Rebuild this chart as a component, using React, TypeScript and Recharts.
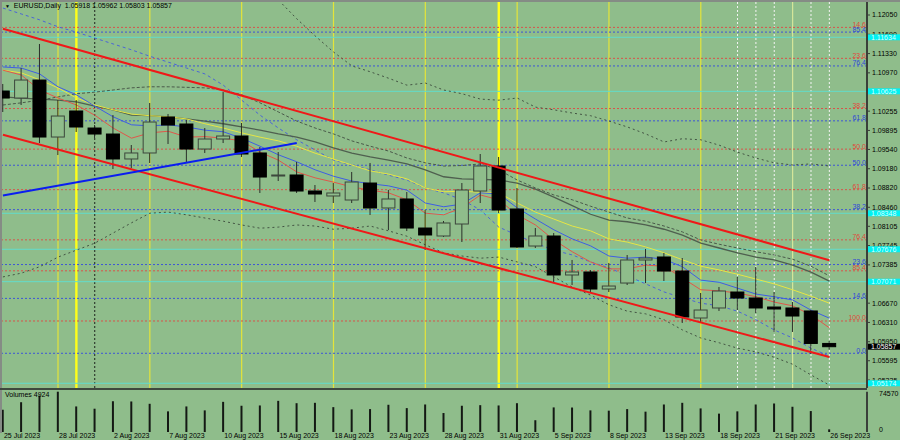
import { ComposedChart, BarChart, Bar, Line, XAxis, YAxis, ReferenceLine } from "recharts"

const FONT = '"Liberation Sans", Arial, sans-serif'
const BG = "#8fbd8b"

const dates = [
  "25 Jul 2023", "26 Jul 2023", "27 Jul 2023", "28 Jul 2023", "31 Jul 2023",
  "1 Aug 2023", "2 Aug 2023", "3 Aug 2023", "4 Aug 2023", "7 Aug 2023",
  "8 Aug 2023", "9 Aug 2023", "10 Aug 2023", "11 Aug 2023", "14 Aug 2023",
  "15 Aug 2023", "16 Aug 2023", "17 Aug 2023", "18 Aug 2023", "21 Aug 2023",
  "22 Aug 2023", "23 Aug 2023", "24 Aug 2023", "25 Aug 2023", "28 Aug 2023",
  "29 Aug 2023", "30 Aug 2023", "31 Aug 2023", "1 Sep 2023", "4 Sep 2023",
  "5 Sep 2023", "6 Sep 2023", "7 Sep 2023", "8 Sep 2023", "11 Sep 2023",
  "12 Sep 2023", "13 Sep 2023", "14 Sep 2023", "15 Sep 2023", "18 Sep 2023",
  "19 Sep 2023", "20 Sep 2023", "21 Sep 2023", "22 Sep 2023", "25 Sep 2023",
  "26 Sep 2023",
]

const openP = [
  1.10631, 1.105, 1.10836, 1.09772, 1.10258, 1.0994, 1.09828, 1.09362, 1.09474, 1.10146,
  1.10015, 1.09548, 1.09735, 1.09791, 1.09474, 1.09044, 1.09063, 1.08764, 1.08671, 1.08596,
  1.08913, 1.08447, 1.08615, 1.08073, 1.07924, 1.08148, 1.08764, 1.09231, 1.08428, 1.07737,
  1.07924, 1.07196, 1.07252, 1.06934, 1.07046, 1.07476, 1.07532, 1.0727, 1.06393, 1.0658,
  1.06878, 1.06766, 1.06598, 1.0658, 1.06524, 1.05918,
]
const highP = [
  1.10762, 1.1106, 1.11509, 1.10463, 1.10463, 1.09996, 1.10183, 1.09623, 1.10407, 1.10202,
  1.1009, 1.0994, 1.10612, 1.10034, 1.09586, 1.09492, 1.09306, 1.08876, 1.08913, 1.09119,
  1.09287, 1.08783, 1.08745, 1.08409, 1.08204, 1.08913, 1.09455, 1.09399, 1.0882, 1.08073,
  1.0798, 1.07476, 1.07289, 1.0742, 1.07569, 1.07681, 1.07607, 1.07513, 1.0686, 1.06972,
  1.07158, 1.07345, 1.06878, 1.06692, 1.06542, 1.05962,
]
const lowP = [
  1.10239, 1.1037, 1.0966, 1.09436, 1.09866, 1.09754, 1.09175, 1.09193, 1.09287, 1.09642,
  1.09306, 1.09474, 1.0966, 1.09399, 1.08727, 1.08951, 1.08727, 1.08559, 1.0854, 1.0854,
  1.08316, 1.08036, 1.08017, 1.07663, 1.07905, 1.07812, 1.0854, 1.08353, 1.077, 1.077,
  1.07046, 1.07009, 1.0686, 1.06878, 1.07009, 1.07046, 1.07084, 1.063, 1.06318, 1.06524,
  1.06542, 1.06486, 1.06132, 1.06132, 1.05721, 1.05803,
]
const closeP = [
  1.105, 1.10836, 1.09772, 1.10164, 1.09959, 1.09828, 1.09362, 1.09474, 1.10052, 1.09996,
  1.09548, 1.09735, 1.09791, 1.09455, 1.09025, 1.09063, 1.08764, 1.08708, 1.08727, 1.08932,
  1.08447, 1.08615, 1.08073, 1.07943, 1.08167, 1.08783, 1.09231, 1.08409, 1.07719, 1.07924,
  1.07196, 1.07252, 1.06934, 1.0699, 1.07476, 1.07513, 1.0727, 1.06412, 1.06542, 1.06897,
  1.06766, 1.0658, 1.06561, 1.0643, 1.05918, 1.05857,
]

const volumes = [
  41290, 55110, 67300, 74570, 47290, 43100, 56930, 56500, 52200, 38200,
  47300, 40000, 55800, 48560, 49100, 57650, 53300, 54000, 46000, 41830,
  42400, 50380, 44200, 50930, 35100, 48560, 49650, 49100, 53300, 21800,
  45500, 45300, 40000, 39470, 42400, 37650, 50900, 54000, 43650, 34000,
  38200, 50900, 52750, 46700, 38740, 4924,
]

// moving averages and bands
const maRed = [
  1.1102, 1.1093, 1.1065, 1.105, 1.1037, 1.1018, 1.0994, 1.0975, 1.0985, 1.0988,
  1.0977, 1.0978, 1.0975, 1.097, 1.0949, 1.0934, 1.0912, 1.0901, 1.0893, 1.0884,
  1.0878, 1.0873, 1.086, 1.0835, 1.0832, 1.0845, 1.0869, 1.086, 1.0832, 1.0813,
  1.0785, 1.0763, 1.0744, 1.0731, 1.0731, 1.0738, 1.0736, 1.0714, 1.0692, 1.069,
  1.0686, 1.0679, 1.0669, 1.0662, 1.0645, 1.0621,
]
const maBlue = [
  1.1108, 1.1106, 1.1095, 1.1071, 1.1056, 1.1035, 1.1015, 1.1, 1.0998, 1.1,
  1.0996, 1.099, 1.0987, 1.0975, 1.096, 1.0944, 1.0931, 1.0916, 1.0904, 1.0895,
  1.089, 1.0886, 1.0878, 1.0854, 1.0847, 1.0852, 1.0873, 1.0871, 1.0845, 1.0824,
  1.0804, 1.0787, 1.0774, 1.0755, 1.0751, 1.0753, 1.0749, 1.0735, 1.071, 1.0706,
  1.0695, 1.0684, 1.0679, 1.0673, 1.0654, 1.0639,
]
const maYellow = [
  1.1102, 1.1097, 1.1084, 1.1069, 1.105, 1.1037, 1.1028, 1.102, 1.1017, 1.1015,
  1.1011, 1.1002, 1.0994, 1.0985, 1.0977, 1.097, 1.096, 1.0947, 1.0936, 1.0925,
  1.0914, 1.0908, 1.0899, 1.0882, 1.0875, 1.0876, 1.0874, 1.0873, 1.0854, 1.0837,
  1.0824, 1.0811, 1.0802, 1.0787, 1.0781, 1.0772, 1.0761, 1.0748, 1.0736, 1.0729,
  1.0721, 1.0712, 1.0703, 1.0692, 1.068, 1.0667,
]
const maDark = [
  1.1052, 1.105, 1.1048, 1.1046, 1.1043, 1.1035, 1.1028, 1.1018, 1.1017, 1.1015,
  1.1011, 1.1007, 1.1002, 1.0996, 1.099, 1.0983, 1.0977, 1.0968, 1.0957, 1.0947,
  1.094, 1.0934, 1.0927, 1.0916, 1.0903, 1.0899, 1.0898, 1.0897, 1.0891, 1.088,
  1.0865, 1.0849, 1.0833, 1.0822, 1.0819, 1.0813, 1.0805, 1.0794, 1.0779, 1.077,
  1.0761, 1.0753, 1.0748, 1.0738, 1.0725, 1.0708,
]
const maDashed = [
  1.1037, 1.1041, 1.1046, 1.1052, 1.1058, 1.1061, 1.1065, 1.1069, 1.1071, 1.1071,
  1.107, 1.1069, 1.1065, 1.1056, 1.1041, 1.1024, 1.1007, 1.0994, 1.0983, 1.097,
  1.096, 1.0951, 1.0938, 1.0929, 1.0923, 1.0924, 1.0927, 1.0916, 1.0897, 1.0882,
  1.0869, 1.086, 1.0848, 1.0837, 1.0826, 1.082, 1.0811, 1.08, 1.0785, 1.0777,
  1.077, 1.0763, 1.0757, 1.0749, 1.0736, 1.0718,
]
const bandUpper = [
  null, null, null, null, null, null, null, null, null, null,
  null, null, null, null, 1.1263, 1.1233, 1.1198, 1.1166, 1.1136, 1.111,
  1.1099, 1.1087, 1.1074, 1.1078, 1.1065, 1.1058, 1.1048, 1.1046, 1.105, 1.1033,
  1.1028, 1.1022, 1.1017, 1.1007, 1.0996, 1.0983, 1.0968, 1.0974, 1.0972, 1.0962,
  1.0949, 1.0938, 1.0929, 1.0925, 1.0927, 1.0923,
]
const bandLower = [
  1.0716, 1.0723, 1.0735, 1.0753, 1.0766, 1.0779, 1.0798, 1.0817, 1.0835, 1.0837,
  1.0832, 1.0826, 1.082, 1.0813, 1.0807, 1.0809, 1.0813, 1.0811, 1.0805, 1.0807,
  1.0811, 1.0802, 1.0792, 1.0776, 1.0761, 1.0755, 1.0751, 1.0753, 1.0744, 1.0735,
  1.0716, 1.0697, 1.0682, 1.0664, 1.0652, 1.0647, 1.0636, 1.0617, 1.0602, 1.0593,
  1.0583, 1.0576, 1.0566, 1.0553, 1.0533, 1.0514,
]
const envBlue = [
  1.1218, 1.1207, 1.1196, 1.1183, 1.1173, 1.1162, 1.1151, 1.114, 1.1128, 1.1117,
  1.1106, 1.1095, 1.1074, 1.1046, 1.1018, 1.0994, 1.0972, 1.0953, 1.0934, 1.0925,
  1.0916, 1.0906, 1.0897, 1.0882, 1.0873, 1.086, 1.0841, 1.0809, 1.0794, 1.0779,
  1.0766, 1.0757, 1.0744, 1.0733, 1.0718, 1.0703, 1.0688, 1.0677, 1.0667, 1.0662,
  1.0652, 1.0636, 1.0617, 1.0602, 1.0583, 1.0568,
]

const priceTicks = [
  1.1205, 1.1169, 1.1133, 1.1097, 1.10255, 1.09895, 1.0954, 1.0918, 1.0882, 1.0846,
  1.08105, 1.07745, 1.07385, 1.0667, 1.0631, 1.0595, 1.05595, 1.05235,
]

const fibRedLevels = [1.11819, 1.11241, 1.10304, 1.09546, 1.08789, 1.07852, 1.07274, 1.06337]
const fibRedLabels = ["14.6", "23.6", "38.2", "50.0", "61.8", "76.4", "85.4", "100.0"]
const fibBlueLevels = [1.11731, 1.11099, 1.10074, 1.09245, 1.08416, 1.07391, 1.06759, 1.05734]
const fibBlueLabels = ["85.4", "76.4", "61.8", "50.0", "38.2", "23.6", "14.6", "0.0"]
const cyanLevels = [1.11634, 1.10625, 1.08348, 1.07676, 1.07071, 1.05174]

const channelUpper = [{ i: 0, p: 1.11794 }, { i: 45, p: 1.07472 }]
const channelLower = [{ i: 0, p: 1.09815 }, { i: 45, p: 1.05665 }]
const supportLine = [{ i: 0, p: 1.0868 }, { i: 16, p: 1.0966 }]

const fridayDays = [3, 8, 13, 18, 23, 28, 33, 38]
const monthEndDays = [4, 27]
const paleDays = [43]
const whiteDays = [40, 41, 42, 44, 45]
const blackDays = [5]
const dateTicks = [0, 3, 6, 9, 12, 15, 18, 21, 24, 27, 30, 33, 36, 39, 42, 45]

const volMax = 74570
const xDomain = [-0.05, 47.05]
const yDomain = [1.05086, 1.12293]
const MAIN_MARGIN = { top: 2, right: 0, bottom: 2, left: 2 }
const VOL_MARGIN = { top: 3.7, right: 0, bottom: 0, left: 2 }

function Candle(props: any) {
  const { x, y, width, height, payload } = props
  const { open, close, high, low } = payload
  const k = high - low > 0 ? height / (high - low) : 0
  const yo = y + (high - open) * k
  const yc = y + (high - close) * k
  const cx = x + width / 2
  const top = Math.min(yo, yc)
  const bh = Math.max(Math.abs(yo - yc), 1)
  const bull = close >= open
  return (
    <g>
      <line x1={cx} x2={cx} y1={y} y2={y + height} stroke="#2a2f2a" strokeWidth={1} />
      <rect
        x={cx - 6.5}
        y={top}
        width={13}
        height={bh}
        fill={bull ? BG : "#000"}
        stroke={bull ? "#3c463c" : "#000"}
        strokeWidth={1}
      />
    </g>
  )
}

const fibLabel = (text: string, color: string) => (props: any) => {
  const vb = props.viewBox
  return (
    <text x={vb.x + vb.width - 1} y={vb.y - 0.5} textAnchor="end" fontSize={7} fill={color} fontFamily={FONT}>
      {text}
    </text>
  )
}

const tagLabel = (text: string, bg: string, fg: string) => (props: any) => {
  const vb = props.viewBox
  return (
    <g>
      <rect x={vb.x + vb.width + 1} y={vb.y - 3} width={32} height={6} fill={bg} />
      <text x={vb.x + vb.width + 4} y={vb.y + 2.5} fontSize={7} fill={fg} fontFamily={FONT}>
        {text}
      </text>
    </g>
  )
}

function verticalLines(pane: string) {
  return [
    ...fridayDays.map((d) => <ReferenceLine key={pane + "f" + d} x={d} stroke="#e4e43a" strokeWidth={1.2} />),
    ...monthEndDays.map((d) => <ReferenceLine key={pane + "m" + d} x={d} stroke="#ffff1a" strokeWidth={2.4} />),
    ...paleDays.map((d) => <ReferenceLine key={pane + "p" + d} x={d} stroke="#d6e69a" strokeWidth={1.2} />),
    ...whiteDays.map((d) => (
      <ReferenceLine key={pane + "w" + d} x={d} stroke="#f4f4f4" strokeWidth={1} strokeDasharray="2 2" />
    )),
    ...blackDays.map((d) => (
      <ReferenceLine key={pane + "b" + d} x={d} stroke="#1e241e" strokeWidth={1} strokeDasharray="2 2" />
    )),
  ]
}

// hidden axes shared by the stacked layers so every layer has the same plot box
function layerAxes(ticks: number[]) {
  return [
    <XAxis key="x" dataKey="i" type="number" domain={xDomain} ticks={ticks} hide allowDataOverflow />,
    <YAxis
      key="y"
      orientation="right"
      type="number"
      domain={yDomain}
      allowDataOverflow
      width={33}
      tick={false}
      axisLine={false}
      tickLine={false}
    />,
  ]
}

const layer: React.CSSProperties = { position: "absolute", left: 0, top: 0 }

export default function App() {
  const rows = dates.map((date, i) => ({
    i,
    date,
    open: openP[i],
    high: highP[i],
    low: lowP[i],
    close: closeP[i],
    red: maRed[i],
    blue: maBlue[i],
    yellow: maYellow[i],
    dark: maDark[i],
    dashed: maDashed[i],
    upper: bandUpper[i],
    lower: bandLower[i],
    env: envBlue[i],
    vol: volumes[i],
  }))
  const indexTicks = rows.map((r) => r.i)
  const last = rows[rows.length - 1]
  const fmt = (v: number) => v.toFixed(5)

  return (
    <div style={{ position: "absolute", left: 0, top: 0, width: 900, height: 440, background: BG, overflow: "hidden", fontFamily: FONT }}>
      {/* main pane: background levels */}
      <div style={layer}>
        <ComposedChart width={900} height={390} data={rows} margin={MAIN_MARGIN}>
          {layerAxes(indexTicks)}
          {verticalLines("main")}
          {cyanLevels.map((v) => (
            <ReferenceLine key={"c" + v} y={v} stroke="#62dccb" strokeWidth={1} />
          ))}
          {fibRedLevels.map((v, k) => (
            <ReferenceLine key={"r" + v} y={v} stroke="#d9534a" strokeDasharray="2 2" label={fibLabel(fibRedLabels[k], "#e04a3c")} />
          ))}
          {fibBlueLevels.map((v, k) => (
            <ReferenceLine key={"b" + v} y={v} stroke="#3d55d6" strokeDasharray="2 2" label={fibLabel(fibBlueLabels[k], "#3048d8")} />
          ))}
        </ComposedChart>
      </div>

      {/* main pane: indicators */}
      <div style={layer}>
        <ComposedChart width={900} height={390} data={rows} margin={MAIN_MARGIN}>
          {layerAxes(indexTicks)}
          <Line dataKey="upper" stroke="#435443" strokeWidth={1} strokeDasharray="2 3" dot={false} isAnimationActive={false} />
          <Line dataKey="lower" stroke="#435443" strokeWidth={1} strokeDasharray="2 3" dot={false} isAnimationActive={false} />
          <Line dataKey="env" stroke="#4a64d8" strokeWidth={1} strokeDasharray="3 3" dot={false} isAnimationActive={false} />
          <Line dataKey="dashed" stroke="#4a5a4a" strokeWidth={1} strokeDasharray="3 2" dot={false} isAnimationActive={false} />
          <Line dataKey="dark" stroke="#4f5f4f" strokeWidth={1.3} dot={false} isAnimationActive={false} />
          <Line dataKey="yellow" stroke="#e6e645" strokeWidth={1} dot={false} isAnimationActive={false} />
          <Line dataKey="blue" stroke="#3e5ee4" strokeWidth={1} dot={false} isAnimationActive={false} />
          <Line dataKey="red" stroke="#e0574a" strokeWidth={1} dot={false} isAnimationActive={false} />
        </ComposedChart>
      </div>

      {/* main pane: candles and price axis */}
      <div style={layer}>
        <ComposedChart width={900} height={390} data={rows} margin={MAIN_MARGIN}>
          <XAxis dataKey="i" type="number" domain={xDomain} ticks={indexTicks} hide allowDataOverflow />
          <YAxis
            orientation="right"
            type="number"
            domain={yDomain}
            allowDataOverflow
            ticks={priceTicks}
            width={33}
            tickFormatter={fmt}
            tickSize={3}
            tickMargin={2}
            axisLine={{ stroke: "#3a403a", strokeWidth: 2 }}
            tickLine={{ stroke: "#3a403a" }}
            tick={{ fontSize: 7, fill: "#000", fontFamily: FONT }}
            interval={0}
          />
          <Bar
            dataKey={(d: any) => [d.low, d.high]}
            barSize={14}
            isAnimationActive={false}
            shape={(p: any) => <Candle {...p} />}
          />
          <ReferenceLine segment={channelUpper.map((s) => ({ x: s.i, y: s.p }))} stroke="#f01818" strokeWidth={2} />
          <ReferenceLine segment={channelLower.map((s) => ({ x: s.i, y: s.p }))} stroke="#f01818" strokeWidth={2} />
          <ReferenceLine segment={supportLine.map((s) => ({ x: s.i, y: s.p }))} stroke="#0a1ef0" strokeWidth={2} />
        </ComposedChart>
      </div>

      {/* main pane: price tags on the axis */}
      <div style={layer}>
        <ComposedChart width={900} height={390} data={rows} margin={MAIN_MARGIN}>
          {layerAxes(indexTicks)}
          {cyanLevels.map((v) => (
            <ReferenceLine key={"t" + v} y={v} stroke="none" label={tagLabel(fmt(v), "#00f2f2", "#d8ffff")} />
          ))}
          <ReferenceLine y={last.close} stroke="none" label={tagLabel(fmt(last.close), "#000", "#fff")} />
        </ComposedChart>
      </div>

      {/* volume pane */}
      <div style={{ position: "absolute", left: 0, top: 388 }}>
        <BarChart width={900} height={52} data={rows} margin={VOL_MARGIN}>
          <XAxis dataKey="i" type="number" domain={xDomain} ticks={dateTicks} hide allowDataOverflow />
          <YAxis orientation="right" type="number" domain={[0, volMax]} width={33} tick={false} axisLine={false} tickLine={false} />
          {verticalLines("vol")}
        </BarChart>
      </div>
      <div style={{ position: "absolute", left: 0, top: 388 }}>
        <BarChart width={900} height={52} data={rows} margin={VOL_MARGIN}>
          <XAxis
            dataKey="i"
            type="number"
            domain={xDomain}
            ticks={dateTicks}
            interval={0}
            height={8}
            axisLine={false}
            tickLine={false}
            tickSize={0}
            tickMargin={0}
            allowDataOverflow
            tick={(p: any) => (
              <text x={p.x + 1} y={p.y + 6} fontSize={7} fill="#000" fontFamily={FONT}>
                {dates[p.payload.value]}
              </text>
            )}
          />
          <YAxis
            orientation="right"
            type="number"
            domain={[0, volMax]}
            ticks={[0, volMax]}
            width={33}
            axisLine={{ stroke: "#3a403a", strokeWidth: 2 }}
            tickLine={false}
            interval={0}
            tick={(p: any) => (
              <text x={p.x + 4} y={p.y + (p.payload.value === 0 ? -0.5 : 4.5)} fontSize={7} fill="#000" fontFamily={FONT}>
                {p.payload.value}
              </text>
            )}
          />
          <Bar dataKey="vol" barSize={2} fill="#141814" isAnimationActive={false} />
        </BarChart>
      </div>

      <div style={{ position: "absolute", left: 0, top: 0, width: 900, height: 1.5, background: "#858c85" }} />
      <div style={{ position: "absolute", left: 0, top: 0, width: 1.5, height: 433, background: "#858c85" }} />
      <div style={{ position: "absolute", left: 0, top: 387.5, width: 867, height: 2, background: "#3e483e" }} />

      <div style={{ position: "absolute", left: 5, top: 2, fontSize: 7, lineHeight: "8px", color: "#000", whiteSpace: "pre" }}>
        <span style={{ fontSize: 5 }}>▼</span>
        {"  EURUSD,Daily  " + [last.open, last.high, last.low, last.close].map(fmt).join(" ")}
      </div>
      <div style={{ position: "absolute", left: 5, top: 391, fontSize: 7, lineHeight: "8px", color: "#000" }}>
        {"Volumes " + last.vol}
      </div>
    </div>
  )
}
